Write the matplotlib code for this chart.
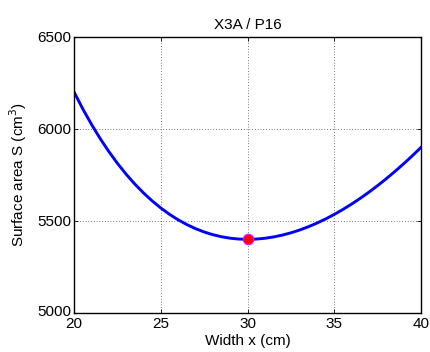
import matplotlib
matplotlib.use("Agg")
import matplotlib.pyplot as plt
import matplotlib.transforms as mtransforms

plt.rcParams['font.family'] = ['Liberation Sans', 'DejaVu Sans']

width_x = [20, 20.5, 21, 21.5, 22, 22.5, 23, 23.5, 24, 24.5, 25, 25.5, 26, 26.5, 27, 27.5,
           28, 28.5, 29, 29.5, 30, 30.5, 31, 31.5, 32, 32.5, 33, 33.5, 34, 34.5, 35, 35.5,
           36, 36.5, 37, 37.5, 38, 38.5, 39, 39.5, 40]
surface_s = [6200, 6108.8, 6024.9, 5947.8, 5877.1, 5812.5, 5753.7, 5700.2, 5652, 5608.7,
             5570, 5535.8, 5505.8, 5480, 5458, 5439.8, 5425.1, 5414, 5406.1, 5401.5, 5400,
             5401.5, 5405.9, 5413.1, 5423, 5435.6, 5450.7, 5468.4, 5488.5, 5510.9, 5535.7,
             5562.8, 5592, 5623.4, 5656.9, 5692.5, 5730.1, 5769.7, 5811.2, 5854.7, 5900]
min_x = [30]
min_s = [5400]
x_ticks = [20, 25, 30, 35, 40]
y_ticks = [5000, 5500, 6000, 6500]

fig = plt.figure(figsize=(4.31, 3.52), dpi=100)
ax = fig.add_axes([0.172, 0.111, 0.805, 0.784])
ax.plot(width_x, surface_s, color='#0000ff', lw=2.1, solid_joinstyle='round')
ax.plot(min_x, min_s, 'o', color='#ff0000', mec='#ff00ff', mew=0.8, ms=7.5, zorder=5)
ax.set_xlim(20, 40)
ax.set_ylim(5000, 6500)
ax.set_xticks(x_ticks)
ax.set_yticks(y_ticks)
ax.grid(True, linestyle=(0, (1, 3)), color='black', lw=0.5)
ax.tick_params(direction='in', top=True, right=True, length=3, labelsize=11, width=0.6, pad=2)
ax.tick_params(axis='x', pad=3)
for s in ax.spines.values():
    s.set_linewidth(1.0)
ax.set_xlabel('Width x (cm)', fontsize=11, labelpad=2)
ax.set_ylabel('Surface area S (cm$^3$)', fontsize=11, labelpad=6)
ax.set_title('X3A / P16', fontsize=11, pad=6)

fig.canvas.draw()
lab = ax.get_yticklabels()[0]
lab.set_transform(lab.get_transform() + mtransforms.ScaledTranslation(0, 2 / 72, fig.dpi_scale_trans))

fig.savefig('out.png', dpi=100)
